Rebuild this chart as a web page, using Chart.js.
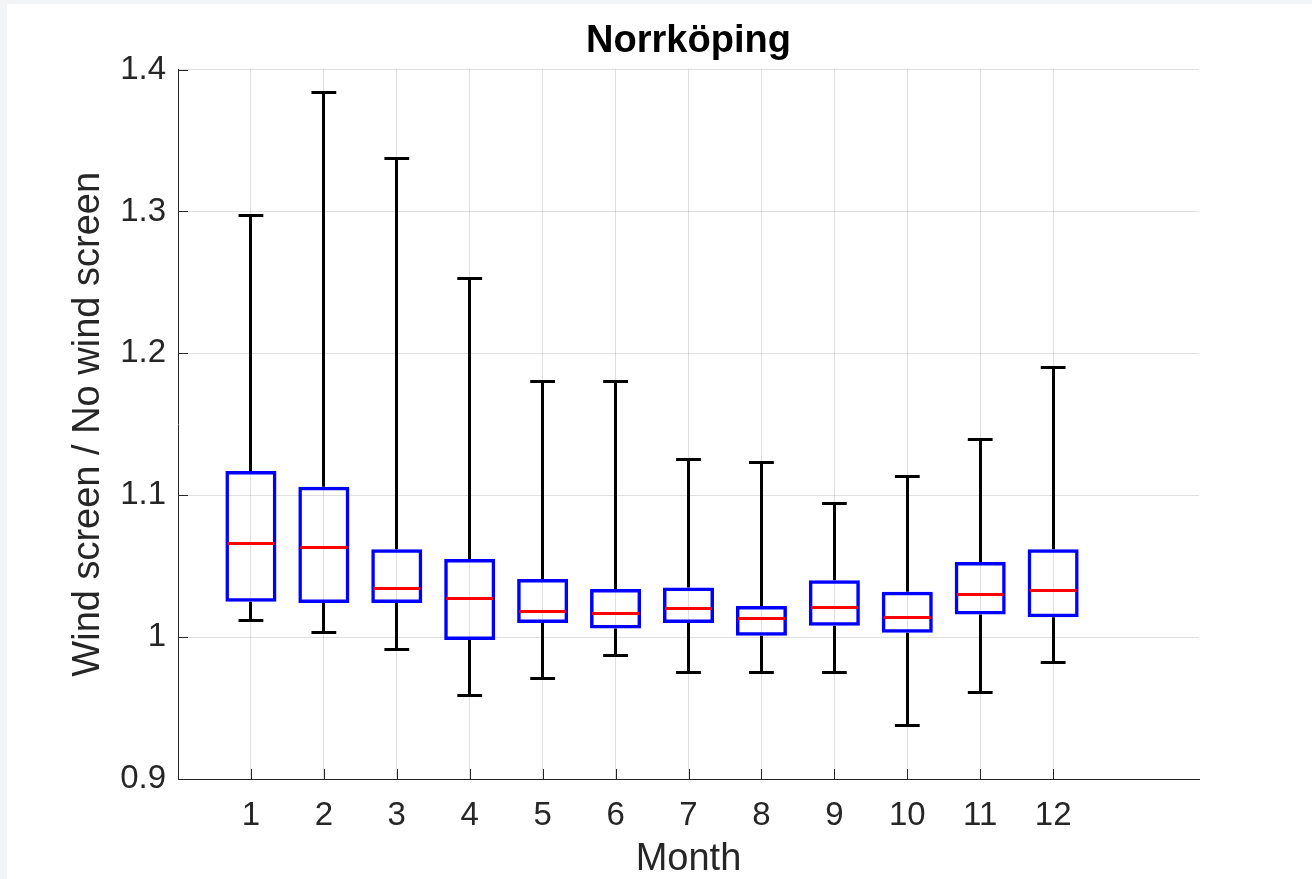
<!DOCTYPE html>
<html>
<head>
<meta charset="utf-8">
<title>Norrköping</title>
<script src="https://cdn.jsdelivr.net/npm/chart.js@4.4.1/dist/chart.umd.min.js"></script>
<style>
  html, body { margin: 0; padding: 0; background: #f3f4f6; }
  #wrap { position: absolute; left: 7px; top: 4px; width: 1305px; height: 875px; background: #fff; }
</style>
</head>
<body>
<div id="wrap"><canvas id="boxChart"></canvas></div>
<script>
'use strict';

// monthly ratio statistics, wind screen vs no wind screen
const months = [1, 2, 3, 4, 5, 6, 7, 8, 9, 10, 11, 12];
const whiskerHigh = [1.297, 1.384, 1.337, 1.253, 1.180, 1.180, 1.125, 1.123, 1.094, 1.113, 1.139, 1.190];
const q3 = [1.117, 1.106, 1.062, 1.055, 1.041, 1.034, 1.035, 1.022, 1.040, 1.032, 1.053, 1.062];
const median = [1.066, 1.063, 1.034, 1.027, 1.018, 1.017, 1.020, 1.013, 1.021, 1.014, 1.030, 1.033];
const q1 = [1.025, 1.024, 1.024, 0.998, 1.010, 1.006, 1.010, 1.001, 1.008, 1.003, 1.016, 1.014];
const whiskerLow = [1.012, 1.003, 0.991, 0.959, 0.971, 0.987, 0.975, 0.975, 0.975, 0.938, 0.961, 0.982];

const yTicks = [0.9, 1.0, 1.1, 1.2, 1.3, 1.4];
const yTickLabels = ['0.9', '1', '1.1', '1.2', '1.3', '1.4'];

const FONT = "'Liberation Sans', Arial, Helvetica, sans-serif";
const TEXT = '#262626';
const GRID = 'rgba(38,38,38,0.15)';
const BOX_HALF = 0.35;
const CAP_HALF = 0.17;

// snap a 3px line onto whole pixels
const snap = (v) => Math.round(v - 0.5) + 0.5;

// whiskers, caps, medians and inward tick marks
const boxParts = {
  id: 'boxParts',
  beforeDatasetsDraw(chart) {
    const {ctx, scales: {x, y}} = chart;
    ctx.save();
    ctx.strokeStyle = '#000';
    ctx.lineWidth = 3;
    months.forEach((m, i) => {
      const cx = snap(x.getPixelForValue(m));
      const c0 = x.getPixelForValue(m - CAP_HALF);
      const c1 = x.getPixelForValue(m + CAP_HALF);
      const yHi = snap(y.getPixelForValue(whiskerHigh[i]));
      const yLo = snap(y.getPixelForValue(whiskerLow[i]));
      ctx.beginPath();
      ctx.moveTo(cx, y.getPixelForValue(q3[i]));
      ctx.lineTo(cx, yHi);
      ctx.moveTo(cx, y.getPixelForValue(q1[i]));
      ctx.lineTo(cx, yLo);
      ctx.moveTo(c0, yHi);
      ctx.lineTo(c1, yHi);
      ctx.moveTo(c0, yLo);
      ctx.lineTo(c1, yLo);
      ctx.stroke();
    });
    ctx.restore();
  },
  afterDatasetsDraw(chart) {
    const {ctx, chartArea, scales: {x, y}} = chart;
    ctx.save();
    ctx.strokeStyle = '#ff0000';
    ctx.lineWidth = 3;
    months.forEach((m, i) => {
      const ym = snap(y.getPixelForValue(median[i]));
      ctx.beginPath();
      ctx.moveTo(x.getPixelForValue(m - BOX_HALF) + 2, ym);
      ctx.lineTo(x.getPixelForValue(m + BOX_HALF) - 2, ym);
      ctx.stroke();
    });
    // tick marks pointing into the axes
    ctx.strokeStyle = TEXT;
    ctx.lineWidth = 1;
    ctx.beginPath();
    months.forEach(m => {
      const px = Math.round(x.getPixelForValue(m)) + 0.5;
      ctx.moveTo(px, chartArea.bottom);
      ctx.lineTo(px, chartArea.bottom - 10);
    });
    yTicks.forEach(v => {
      const py = Math.round(y.getPixelForValue(v)) + 0.5;
      ctx.moveTo(chartArea.left, py);
      ctx.lineTo(chartArea.left + 10, py);
    });
    ctx.stroke();
    ctx.restore();
  }
};

const chart = new Chart(document.getElementById('boxChart'), {
  type: 'bar',
  data: {
    datasets: [{
      label: 'IQR',
      data: months.map((m, i) => ({x: m, y: [q1[i], q3[i]]})),
      backgroundColor: 'transparent',
      borderColor: '#0000ff',
      borderWidth: 3.5,
      borderSkipped: false,
      inflateAmount: 0,
      barPercentage: BOX_HALF * 2,
      categoryPercentage: 1
    }]
  },
  options: {
    responsive: true,
    maintainAspectRatio: false,
    animation: false,
    layout: {
      padding: {left: 0, right: 113, top: 0, bottom: 0}
    },
    scales: {
      x: {
        type: 'linear',
        min: 0,
        max: 14,
        offset: false,
        afterBuildTicks: (scale) => {
          scale.ticks = months.map(v => ({value: v}));
        },
        afterFit: (scale) => {
          scale.height = 100;
        },
        grid: {
          color: GRID,
          offset: false,
          drawTicks: false
        },
        border: {
          display: true,
          color: TEXT,
          width: 1
        },
        ticks: {
          color: TEXT,
          padding: 17,
          maxRotation: 0,
          autoSkip: false,
          font: {family: FONT, size: 33},
          callback: (v) => String(v)
        },
        title: {
          display: true,
          text: 'Month',
          color: TEXT,
          font: {family: FONT, size: 38, lineHeight: 1},
          padding: {top: 0, bottom: 0}
        }
      },
      y: {
        min: 0.9,
        max: 1.4,
        afterBuildTicks: (scale) => {
          scale.ticks = yTicks.map(v => ({value: v}));
        },
        afterFit: (scale) => {
          scale.width = 171;
        },
        grid: {
          color: GRID,
          drawTicks: false
        },
        border: {
          display: true,
          color: TEXT,
          width: 1
        },
        ticks: {
          color: TEXT,
          padding: 12,
          font: {family: FONT, size: 33},
          callback: (v, i) => yTickLabels[i]
        },
        title: {
          display: true,
          text: 'Wind screen / No wind screen',
          color: TEXT,
          font: {family: FONT, size: 38, lineHeight: 1.2},
          padding: {top: 59, bottom: 0}
        }
      }
    },
    plugins: {
      legend: {display: false},
      tooltip: {enabled: false},
      title: {
        display: true,
        text: 'Norrköping',
        color: '#000',
        fullSize: false,
        font: {family: FONT, size: 38, weight: 'bold', lineHeight: 1.2},
        padding: {top: 15, bottom: 5}
      }
    }
  },
  plugins: [boxParts]
});
</script>
</body>
</html>
